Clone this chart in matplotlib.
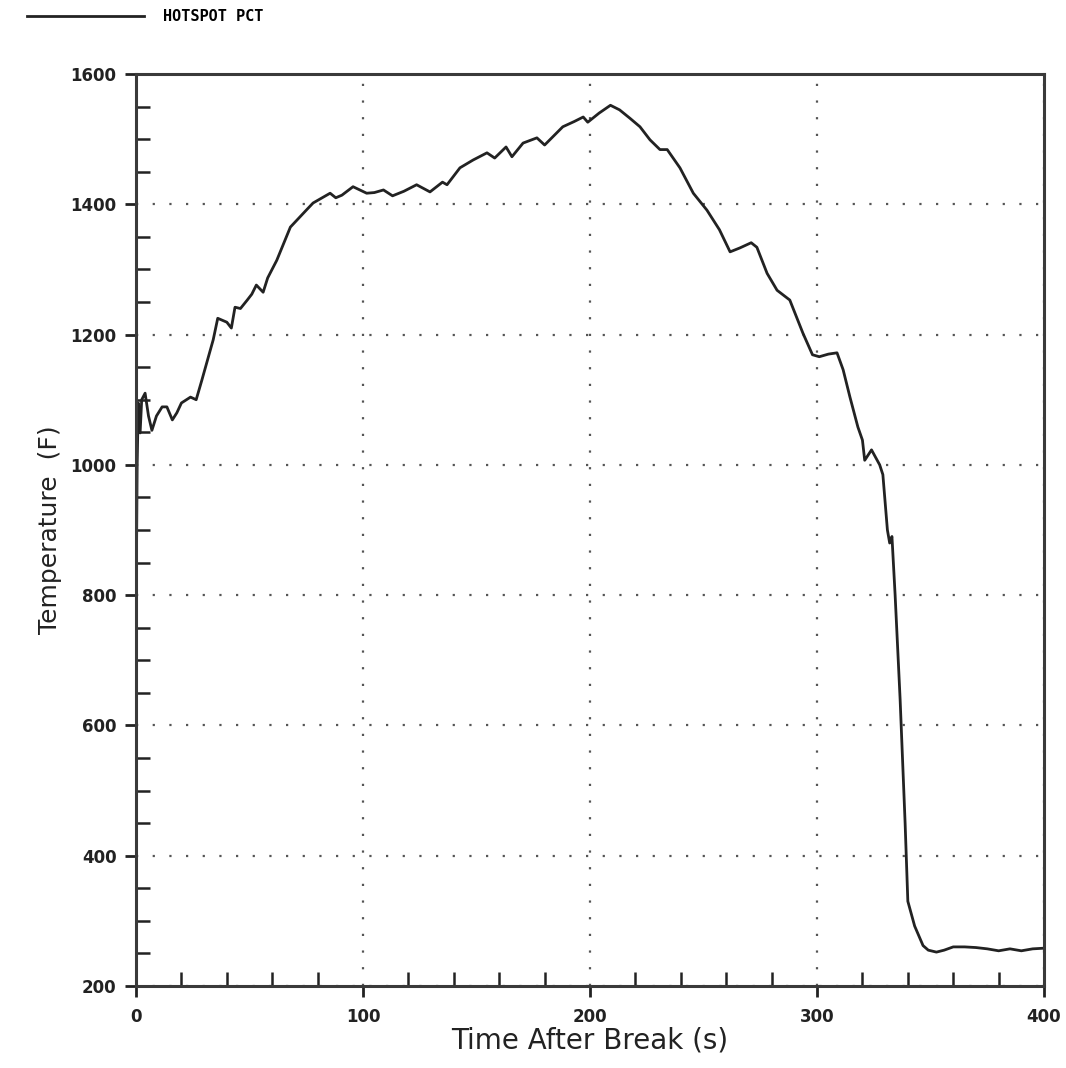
import matplotlib
matplotlib.use('Agg')
import matplotlib.pyplot as plt
from matplotlib.ticker import MultipleLocator


# Hotspot peak clad temperature
TIME_S = [0, 0.5, 1, 1.8, 2.5, 4, 5.5, 7, 9, 11.5, 13.6, 16, 18, 20, 24, 26.5,
          29, 34, 36, 38, 40, 42, 43.6, 46, 49, 51, 53, 56, 58, 62, 68, 75,
          78, 82, 85.5, 88, 90.7, 95.6, 101.6, 105, 109, 113, 118, 123.6,
          129.5, 135, 137, 142.7, 148.5, 154.6, 158, 163, 165.6, 170.5, 176.6,
          180, 184, 188, 193, 197, 199, 204, 209, 213, 217.6, 222, 226.4,
          230.8, 234, 239.6, 245.5, 251.5, 257, 261.7, 266, 271, 273.5, 278,
          282.4, 288, 293.8, 298, 301, 305, 308.8, 311.5, 314.5, 318, 320,
          321, 324, 327.6, 329, 331, 332, 333, 334.4, 336.6, 338.8, 340, 343,
          346.7, 349, 352.6, 356, 360, 365, 370, 375, 380, 385, 390, 395, 400]

TEMP_F = [760, 1000, 1095, 1049, 1100, 1110, 1075, 1053, 1075, 1089, 1089,
          1069, 1080, 1095, 1104, 1100, 1130, 1192, 1225, 1222, 1219, 1210,
          1242, 1240, 1253, 1262, 1276, 1265, 1287, 1314, 1365, 1391, 1402,
          1410, 1417, 1410, 1414, 1427, 1417, 1418, 1422, 1413, 1420, 1430,
          1419, 1434, 1430, 1456, 1468, 1479, 1471, 1488, 1473, 1494, 1502,
          1491, 1505, 1519, 1527, 1534, 1526, 1540, 1552, 1545, 1532, 1519,
          1499, 1484, 1484, 1456, 1417, 1391, 1361, 1327, 1333, 1341, 1334,
          1294, 1268, 1253, 1202, 1169, 1166, 1170, 1172, 1146, 1104, 1058,
          1038, 1007, 1023, 1000, 985, 900, 880, 890, 800, 640, 450, 330, 292,
          262, 255, 252, 255, 260, 260, 259, 257, 254, 257, 254, 257, 258]

X_TICKS = [0, 100, 200, 300, 400]
Y_TICKS = [200, 400, 600, 800, 1000, 1200, 1400, 1600]

INK = '#222222'
GRID = '#555555'


fig = plt.figure(figsize=(10.66, 10.68), dpi=100)
ax = fig.add_axes([0.1276, 0.0768, 0.8518, 0.8539])

ax.plot(TIME_S, TEMP_F, color=INK, linewidth=2.0, label='HOTSPOT PCT')

ax.set_xlim(0, 400)
ax.set_ylim(200, 1600)
ax.set_xticks(X_TICKS)
ax.set_yticks(Y_TICKS)
ax.xaxis.set_minor_locator(MultipleLocator(20))
ax.yaxis.set_minor_locator(MultipleLocator(50))

# majors stick out, minors point into the plot like the original
ax.tick_params(which='major', direction='out', length=8, width=2, colors=INK,
               labelsize=12)
ax.tick_params(axis='x', which='major', pad=8)
ax.tick_params(axis='y', which='major', pad=6)
ax.tick_params(which='minor', direction='in', length=10, width=1.8, colors=INK)
for lab in ax.get_xticklabels() + ax.get_yticklabels():
    lab.set_fontweight('bold')

for side in ['left', 'right', 'top', 'bottom']:
    ax.spines[side].set_linewidth(2.2)
    ax.spines[side].set_color('#3a3a3a')

ax.grid(True, which='major', color=GRID, linestyle=(0, (1, 6.5)), linewidth=1.6)

ax.set_xlabel('Time After Break (s)', fontsize=20, color=INK, labelpad=0)
ax.set_ylabel('Temperature  (F)', fontsize=18, color=INK, labelpad=6)

leg = ax.legend(loc='upper left', bbox_to_anchor=(0.02, 0.997),
                bbox_transform=fig.transFigure, frameon=False,
                handlelength=7.6, handletextpad=1.3, borderaxespad=0,
                prop={'family': 'DejaVu Sans Mono', 'weight': 'bold', 'size': 11})
for line in leg.get_lines():
    line.set_linewidth(2.0)

fig.savefig('out.png', dpi=100)
